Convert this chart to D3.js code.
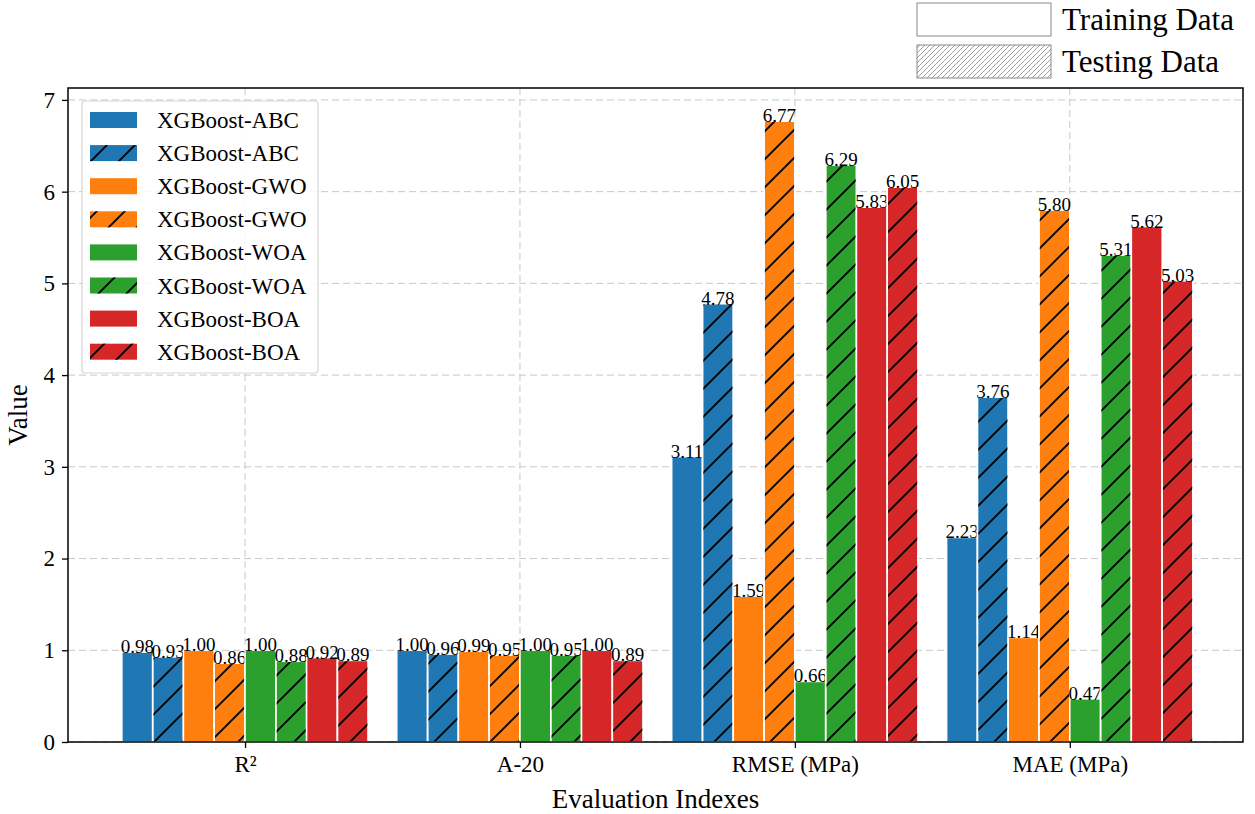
<!DOCTYPE html>
<html>
<head>
<meta charset="utf-8">
<script src="https://cdn.jsdelivr.net/npm/d3@7"></script>
<style>
  body { margin: 0; background: #fff; }
  text { font-family: "Liberation Serif", "Times New Roman", serif; }
</style>
</head>
<body>
<div id="chart"></div>
<script>
var categories = ["R\u00B2", "A-20", "RMSE (MPa)", "MAE (MPa)"];
var models = ["XGBoost-ABC", "XGBoost-GWO", "XGBoost-WOA", "XGBoost-BOA"];
var colors = ["#1f77b4", "#ff7f0e", "#2ca02c", "#d62728"];
var trainABC = [0.98, 1.00, 3.11, 2.23];
var testABC  = [0.93, 0.96, 4.78, 3.76];
var trainGWO = [1.00, 0.99, 1.59, 1.14];
var testGWO  = [0.86, 0.95, 6.77, 5.80];
var trainWOA = [1.00, 1.00, 0.66, 0.47];
var testWOA  = [0.88, 0.95, 6.29, 5.31];
var trainBOA = [0.92, 1.00, 5.83, 5.62];
var testBOA  = [0.89, 0.89, 6.05, 5.03];
var yTicks = [0, 1, 2, 3, 4, 5, 6, 7];

var series = [
  { name: models[0], color: colors[0], hatch: false, values: trainABC },
  { name: models[0], color: colors[0], hatch: true,  values: testABC },
  { name: models[1], color: colors[1], hatch: false, values: trainGWO },
  { name: models[1], color: colors[1], hatch: true,  values: testGWO },
  { name: models[2], color: colors[2], hatch: false, values: trainWOA },
  { name: models[2], color: colors[2], hatch: true,  values: testWOA },
  { name: models[3], color: colors[3], hatch: false, values: trainBOA },
  { name: models[3], color: colors[3], hatch: true,  values: testBOA }
];

var W = 1255, H = 814;
var plot = { left: 68, right: 1243, top: 88, bottom: 742 };
var barW = 0.112;

var svg = d3.select("#chart").append("svg").attr("width", W).attr("height", H);

var x = d3.scaleLinear().domain([-0.644, 3.63]).range([plot.left, plot.right]);
var y = d3.scaleLinear().domain([0, 7.13]).range([plot.bottom, plot.top]);

// hatch patterns
var defs = svg.append("defs");
var hp = defs.append("pattern").attr("id", "hatch").attr("patternUnits", "userSpaceOnUse")
  .attr("width", 28).attr("height", 28);
hp.append("path").attr("d", "M-7,7 L7,-7 M0,28 L28,0 M21,35 L35,21")
  .attr("stroke", "#000").attr("stroke-width", 1.9);
var hd = defs.append("pattern").attr("id", "hatchDense").attr("patternUnits", "userSpaceOnUse")
  .attr("width", 5).attr("height", 5);
hd.append("path").attr("d", "M-1,1 L1,-1 M0,5 L5,0 M4,6 L6,4")
  .attr("stroke", "#888").attr("stroke-width", 0.8);

// grid
var g = svg.append("g");
g.selectAll(".hgrid").data(yTicks).enter().append("line")
  .attr("x1", plot.left).attr("x2", plot.right)
  .attr("y1", function (d) { return y(d); }).attr("y2", function (d) { return y(d); })
  .attr("stroke", "#c8c8c8").attr("stroke-width", 1).attr("stroke-dasharray", "7,4");
g.selectAll(".vgrid").data(categories).enter().append("line")
  .attr("x1", function (d, i) { return x(i); }).attr("x2", function (d, i) { return x(i); })
  .attr("y1", plot.top).attr("y2", plot.bottom)
  .attr("stroke", "#c8c8c8").attr("stroke-width", 1).attr("stroke-dasharray", "7,4");

// bars
series.forEach(function (s, si) {
  var off = (si - 3.5) * barW;
  var bg = svg.append("g");
  bg.selectAll("rect.fill").data(s.values).enter().append("rect")
    .attr("x", function (d, i) { return x(i + off - barW / 2); })
    .attr("width", x(barW) - x(0))
    .attr("y", function (d) { return y(d); })
    .attr("height", function (d) { return y(0) - y(d); })
    .attr("fill", s.color).attr("stroke", "#fff").attr("stroke-width", 1.5);
  if (s.hatch) {
    bg.selectAll("rect.hatch").data(s.values).enter().append("rect")
      .attr("x", function (d, i) { return x(i + off - barW / 2); })
      .attr("width", x(barW) - x(0))
      .attr("y", function (d) { return y(d); })
      .attr("height", function (d) { return y(0) - y(d); })
      .attr("fill", "url(#hatch)").attr("stroke", "#fff").attr("stroke-width", 1.5);
  }
  bg.selectAll("text").data(s.values).enter().append("text")
    .attr("x", function (d, i) { return x(i + off); })
    .attr("y", function (d) { return y(d) + 1; })
    .attr("text-anchor", "middle").attr("font-size", 19).attr("fill", "#000")
    .text(function (d) { return d.toFixed(2); });
});

// frame
svg.append("rect").attr("x", plot.left).attr("y", plot.top)
  .attr("width", plot.right - plot.left).attr("height", plot.bottom - plot.top)
  .attr("fill", "none").attr("stroke", "#000").attr("stroke-width", 1.5);

// axes
var yAxis = d3.axisLeft(y).tickValues(yTicks).tickFormat(d3.format("d")).tickSize(6).tickPadding(7);
var ya = svg.append("g").attr("transform", "translate(" + plot.left + ",0)").call(yAxis);
var xAxis = d3.axisBottom(x).tickValues([0, 1, 2, 3]).tickFormat(function (d) { return categories[d]; })
  .tickSize(6).tickPadding(8);
var xa = svg.append("g").attr("transform", "translate(0," + plot.bottom + ")").call(xAxis);
[ya, xa].forEach(function (a) {
  a.select(".domain").remove();
  a.selectAll("line").attr("stroke", "#000").attr("stroke-width", 1.3);
  a.selectAll("text").attr("font-size", 23).attr("fill", "#000")
    .style("font-family", "'Liberation Serif', serif");
});

svg.append("text").attr("transform", "translate(27," + ((plot.top + plot.bottom) / 2) + ") rotate(-90)")
  .attr("text-anchor", "middle").attr("font-size", 27).text("Value");
svg.append("text").attr("x", (plot.left + plot.right) / 2).attr("y", 808)
  .attr("text-anchor", "middle").attr("font-size", 27).text("Evaluation Indexes");

// inner legend
var lg = svg.append("g");
lg.append("rect").attr("x", 82).attr("y", 101).attr("width", 236).attr("height", 272)
  .attr("rx", 3).attr("fill", "#fff").attr("fill-opacity", 0.85)
  .attr("stroke", "#d6d6d6").attr("stroke-width", 1.2);
series.forEach(function (s, i) {
  var yy = 112 + i * 33.1;
  lg.append("rect").attr("x", 90).attr("y", yy).attr("width", 47).attr("height", 16)
    .attr("fill", s.color);
  if (s.hatch) {
    lg.append("rect").attr("x", 90).attr("y", yy).attr("width", 47).attr("height", 16)
      .attr("fill", "url(#hatch)");
  }
  lg.append("text").attr("x", 157).attr("y", yy + 16).attr("font-size", 23).text(s.name);
});

// outer legend
var types = ["Training Data", "Testing Data"];
types.forEach(function (t, i) {
  var yy = 3 + i * 42;
  svg.append("rect").attr("x", 917).attr("y", yy).attr("width", 134).attr("height", 33)
    .attr("fill", i ? "url(#hatchDense)" : "#fff").attr("stroke", "#888").attr("stroke-width", 1);
  svg.append("text").attr("x", 1062).attr("y", yy + 27).attr("font-size", 31).text(t);
});
</script>
</body>
</html>
